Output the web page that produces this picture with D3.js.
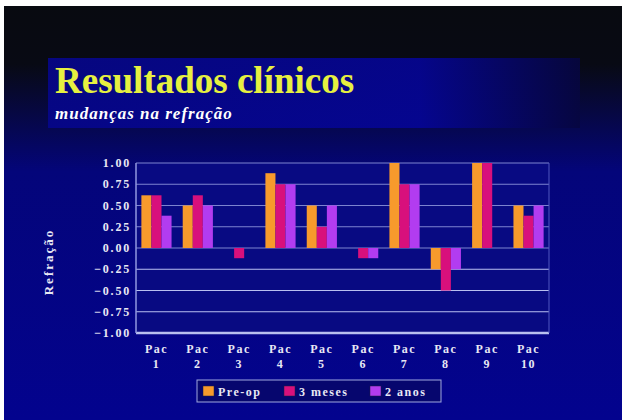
<!DOCTYPE html>
<html>
<head>
<meta charset="utf-8">
<script src="https://cdn.jsdelivr.net/npm/d3@7"></script>
<style>
  body { margin: 0; background: #fff; }
  svg { display: block; }
</style>
</head>
<body>
<div id="chart"></div>
<script>
const patients = ["Pac 1", "Pac 2", "Pac 3", "Pac 4", "Pac 5", "Pac 6", "Pac 7", "Pac 8", "Pac 9", "Pac 10"];
const seriesNames = ["Pre-op", "3 meses", "2 anos"];
const preOp   = [0.62, 0.50, 0.00, 0.88, 0.50, 0.00, 1.00, -0.25, 1.00, 0.50];
const meses3  = [0.62, 0.62, -0.12, 0.75, 0.25, -0.12, 0.75, -0.50, 1.00, 0.38];
const anos2   = [0.38, 0.50, 0.00, 0.75, 0.50, -0.12, 0.75, -0.25, 0.00, 0.50];
const yTicks  = [1, 0.75, 0.5, 0.25, 0, -0.25, -0.5, -0.75, -1];
const colors  = ["#f79a2c", "#d8107c", "#b23cf0"];

const w = 623, h = 420;
const font = "Liberation Serif, serif";
const svg = d3.select("#chart").append("svg").attr("width", w).attr("height", h);

// background gradient black -> blue
const defs = svg.append("defs");
const bg = defs.append("linearGradient").attr("id", "bg").attr("x1", 0).attr("y1", 0).attr("x2", 0).attr("y2", 1);
bg.append("stop").attr("offset", "0%").attr("stop-color", "#080a10");
bg.append("stop").attr("offset", "14%").attr("stop-color", "#080a14");
bg.append("stop").attr("offset", "40%").attr("stop-color", "#04057a");
bg.append("stop").attr("offset", "100%").attr("stop-color", "#03038e");

const banner = defs.append("linearGradient").attr("id", "banner").attr("x1", 0).attr("y1", 0).attr("x2", 1).attr("y2", 0);
banner.append("stop").attr("offset", "0%").attr("stop-color", "#06068c");
banner.append("stop").attr("offset", "70%").attr("stop-color", "#050596");
banner.append("stop").attr("offset", "100%").attr("stop-color", "#060640");

svg.append("rect").attr("x", 4).attr("y", 6).attr("width", w - 5).attr("height", h - 6).attr("fill", "url(#bg)");

// title banner
svg.append("rect").attr("x", 48).attr("y", 58).attr("width", 532).attr("height", 70).attr("fill", "url(#banner)").attr("opacity", 0.9);

svg.append("text").attr("x", 55).attr("y", 93)
  .text("Resultados clínicos")
  .attr("font-family", font).attr("font-weight", "bold")
  .attr("font-size", 37).attr("fill", "#e6f040");

svg.append("text").attr("x", 55).attr("y", 119)
  .text("mudanças na refração")
  .attr("font-family", font).attr("font-weight", "bold").attr("font-style", "italic")
  .attr("font-size", 17).attr("letter-spacing", 1).attr("fill", "#ffffff");

// plot area
const plotL = 136, plotR = 549, plotT = 163, plotB = 333;
const x = d3.scaleBand().domain(patients).range([plotL, plotR]).paddingInner(0.27).paddingOuter(0.13);
const xs = d3.scaleBand().domain(seriesNames).range([0, x.bandwidth()]);
const y = d3.scaleLinear().domain([-1, 1]).range([plotB, plotT]);

svg.append("rect").attr("x", plotL).attr("y", plotT).attr("width", plotR - plotL).attr("height", plotB - plotT)
  .attr("fill", "#080a82");

// gridlines
svg.append("g").selectAll("line").data(yTicks).enter().append("line")
  .attr("x1", plotL).attr("x2", plotR)
  .attr("y1", d => y(d)).attr("y2", d => y(d))
  .attr("stroke", d => d < 0 ? "#b8c0f0" : "#7c84d0")
  .attr("stroke-width", d => d === -1 ? 2.5 : 1.2);

// axis frame lines
svg.append("line").attr("x1", plotL).attr("x2", plotL).attr("y1", plotT).attr("y2", plotB)
  .attr("stroke", "#9098e0").attr("stroke-width", 1.5);
svg.append("line").attr("x1", plotR).attr("x2", plotR).attr("y1", plotT).attr("y2", plotB)
  .attr("stroke", "#5058c0").attr("stroke-width", 1);

// tick labels
svg.append("g").selectAll("text").data(yTicks).enter().append("text")
  .attr("x", plotL - 5).attr("y", d => y(d) + 4)
  .attr("text-anchor", "end")
  .text(d => d3.format(".2f")(d))
  .attr("font-family", font).attr("font-weight", "bold")
  .attr("font-size", 12).attr("letter-spacing", 1.8).attr("fill", "#e8e8f4");

// bars
const data = [preOp, meses3, anos2];
const groups = svg.append("g").selectAll("g").data(patients).enter().append("g")
  .attr("transform", d => "translate(" + x(d) + ",0)");

groups.selectAll("rect").data((d, i) => seriesNames.map((s, j) => ({ s: s, v: data[j][i], c: colors[j] })))
  .enter().append("rect")
  .attr("x", d => xs(d.s))
  .attr("y", d => y(Math.max(0, d.v)))
  .attr("width", xs.bandwidth())
  .attr("height", d => Math.abs(y(d.v) - y(0)))
  .attr("fill", d => d.c);

// x labels
const xl = svg.append("g").selectAll("text").data(patients).enter().append("text")
  .attr("text-anchor", "middle")
  .attr("font-family", font).attr("font-weight", "bold")
  .attr("font-size", 12).attr("letter-spacing", 1.5).attr("fill", "#e8e8f4");
xl.append("tspan").attr("x", d => x(d) + x.bandwidth() / 2).attr("y", 353).text(d => d.split(" ")[0]);
xl.append("tspan").attr("x", d => x(d) + x.bandwidth() / 2).attr("y", 368).text(d => d.split(" ")[1]);

// y axis title
svg.append("text").attr("transform", "translate(53,262) rotate(-90)")
  .attr("text-anchor", "middle")
  .text("Refração")
  .attr("font-family", font).attr("font-weight", "bold")
  .attr("font-size", 13).attr("letter-spacing", 2).attr("fill", "#e8e8f4");

// legend
const legendBox = svg.append("g").attr("id", "legend");
legendBox.append("rect").attr("x", 197).attr("y", 380).attr("width", 244).attr("height", 22)
  .attr("fill", "#06066e").attr("stroke", "#a0a8e0").attr("stroke-width", 1);
const legendX = [203, 284, 370];
const items = legendBox.selectAll("g").data(seriesNames).enter().append("g")
  .attr("transform", (d, i) => "translate(" + legendX[i] + ",386)");
items.append("rect").attr("width", 11).attr("height", 10).attr("fill", (d, i) => colors[i])
  .attr("stroke", "#202040").attr("stroke-width", 0.5);
items.append("text").attr("x", 15).attr("y", 9.5).text(d => d)
  .attr("font-family", font).attr("font-weight", "bold")
  .attr("font-size", 12).attr("letter-spacing", 1.5).attr("fill", "#e8e8f4");
</script>
</body>
</html>
